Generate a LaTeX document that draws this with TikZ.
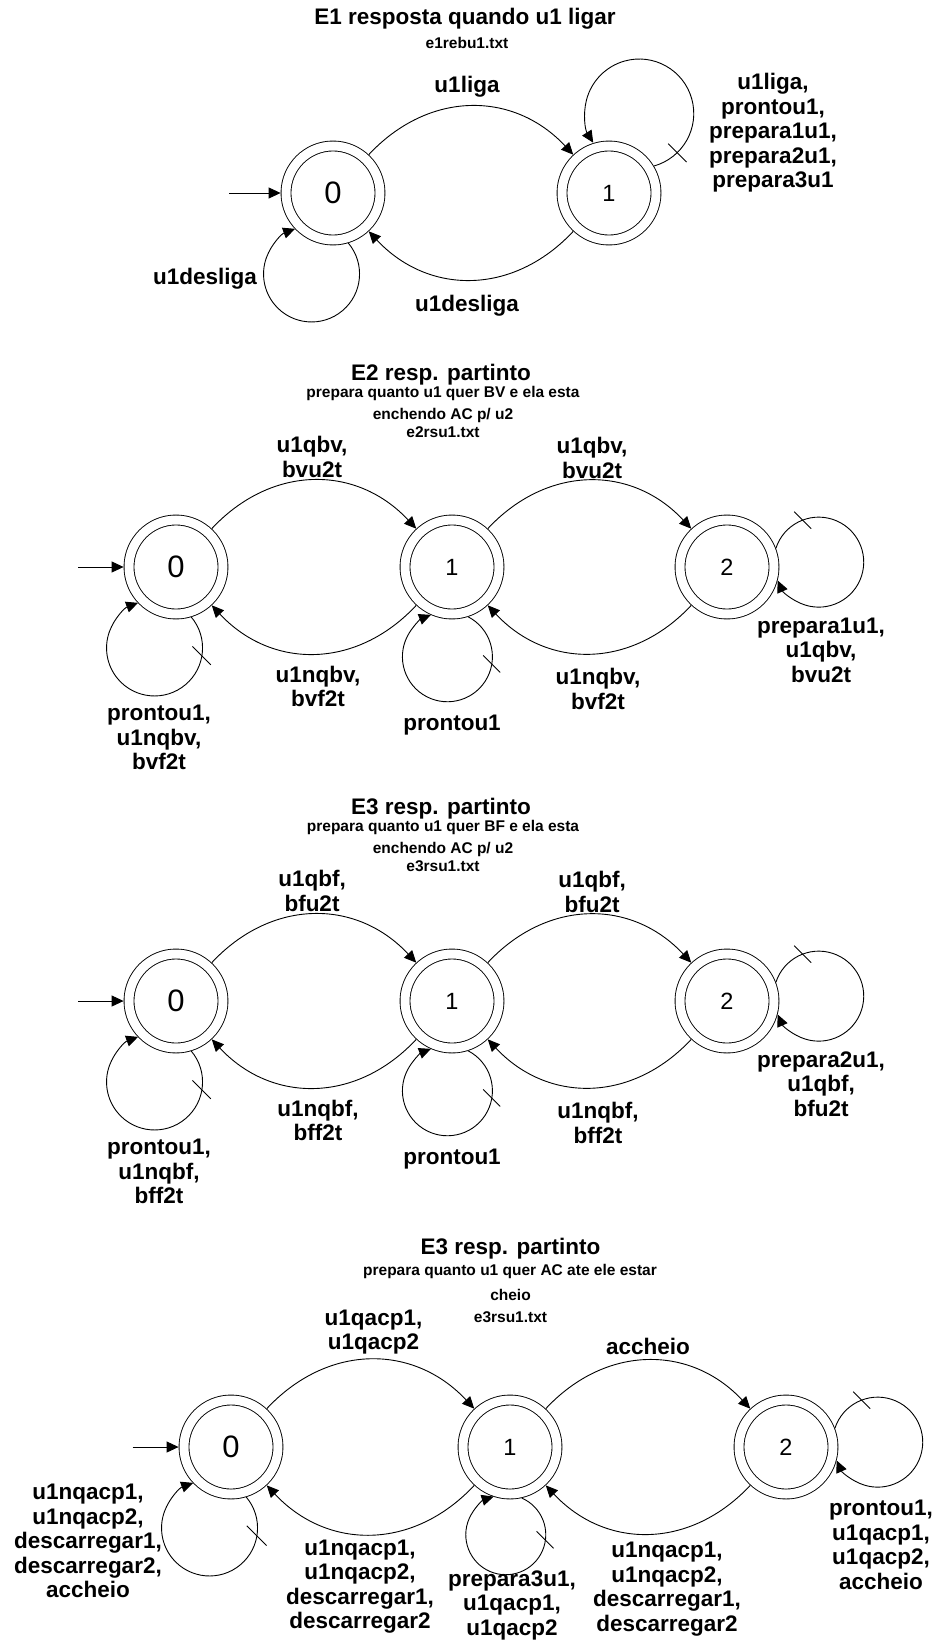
\documentclass[tikz,border=0pt]{standalone}
\usepackage{fontspec}
\setmainfont{Liberation Sans}
\usetikzlibrary{arrows.meta,calc}

\begin{document}
\begin{tikzpicture}[x=1pt,y=1pt,
    state/.style={circle,draw,double,double distance=9pt,line width=0.9pt,
      minimum size=94pt,inner sep=0pt,outer sep=5.4pt,
      font=\fontsize{23.5}{26}\selectfont},
    zero/.style={font=\fontsize{31}{33}\selectfont},
    edge/.style={line width=0.9pt,-{Triangle[length=12pt,width=11pt]}},
    tick/.style={line width=0.9pt},
    lbl/.style={font=\bfseries\fontsize{22.5}{24.5}\selectfont,align=center,inner sep=0pt},
    sub/.style={font=\bfseries\fontsize{15.5}{18}\selectfont,inner sep=0pt}]
  \useasboundingbox (0,0) rectangle (939,-1645);

  % E1: two states
  \node[lbl] (tta) at (465,-18.5) {E1 resposta quando u1 ligar};
  \node[sub] (sba) at (467,-43) {e1rebu1.txt};
  \node[state,zero] (q0a) at (333,-193) {0};
  \node[state] (q1a) at (609,-193) {1};
  \coordinate (ia) at (229,-193);
  \draw[edge] (ia) -- (q0a);
  \draw[edge] (q0a) to[bend left=47,looseness=1.1] (q1a);
  \draw[edge] (q1a) to[bend left=47,looseness=1.1] (q0a);
  \draw[edge] (q0a.287) arc[start angle=40,end angle=-250,radius=48];
  \draw[edge] (q1a.31) arc[start angle=-74.4,end angle=212.4,radius=54.5];
  \coordinate (la) at ($(q1a)+(69:85)$);
  \draw[tick] ($(la)+(-46:54.5)$) +(135:13) -- +(-45:13);
  \node[lbl] (e01a) at (467,-87) {u1liga};
  \node[lbl] (e10a) at (467,-306) {u1desliga};
  \node[lbl,anchor=east] (e00a) at (257,-279) {u1desliga};
  \node[lbl] (e11a) at (773,-133)
    {u1liga,\\prontou1,\\prepara1u1,\\prepara2u1,\\prepara3u1};

  % E2 and E3: three states, same layout
  \foreach \s/\dy/\ei/\lc/\uc/\pn in {b/567/2/v/V/1, c/1001/3/f/F/2}{
    \begin{scope}[yshift=-\dy pt]
      \node[lbl] (tt\s) at (441,192) {E\ei{} resp. partinto};
      \node[sub] (sb1\s) at (443,174) {prepara quanto u1 quer B\uc{} e ela esta};
      \node[sub] (sb2\s) at (443,152) {enchendo AC p/ u2};
      \node[sub] (sb3\s) at (443,135) {e\ei{}rsu1.txt};
      \node[state,zero] (q0\s) at (176,0) {0};
      \node[state] (q1\s) at (452,0) {1};
      \node[state] (q2\s) at (727,0) {2};
      \coordinate (i\s) at (78,0);
      \draw[edge] (i\s) -- (q0\s);
      \draw[edge] (q0\s) to[bend left=47,looseness=1.1] (q1\s);
      \draw[edge] (q1\s) to[bend left=47,looseness=1.1] (q2\s);
      \draw[edge] (q1\s) to[bend left=47,looseness=1.1] (q0\s);
      \draw[edge] (q2\s) to[bend left=47,looseness=1.1] (q1\s);
      % self loops, with their ticks
      \draw[edge] (q0\s.287) arc[start angle=40,end angle=-250,radius=48];
      \draw[edge] (q1\s.288) arc[start angle=62.5,end angle=-248.5,radius=45];
      \draw[edge] (q2\s.21) arc[start angle=162,end angle=-156,radius=45];
      \coordinate (l0\s) at ($(q0\s)+(255:84)$);
      \coordinate (l1\s) at ($(q1\s)+(267:90)$);
      \coordinate (l2\s) at ($(q2\s)+(3:92)$);
      \draw[tick] ($(l0\s)+(-9:48)$) +(135:13) -- +(-45:13);
      \draw[tick] ($(l1\s)+(-9:45)$) +(135:12) -- +(-45:12);
      \draw[tick] ($(l2\s)+(111:45)$) +(135:12) -- +(-45:12);
      \node[lbl] (e01\s) at (312,110) {u1qb\lc,\\b\lc{}u2t};
      \node[lbl] (e12\s) at (592,109) {u1qb\lc,\\b\lc{}u2t};
      \node[lbl] (e10\s) at (318,-119.5) {u1nqb\lc,\\b\lc{}f2t};
      \node[lbl] (e21\s) at (598,-122) {u1nqb\lc,\\b\lc{}f2t};
      \node[lbl] (e00\s) at (159,-170.5) {prontou1,\\u1nqb\lc,\\b\lc{}f2t};
      \node[lbl] (e11\s) at (452,-158) {prontou1};
      \node[lbl] (e22\s) at (821,-83) {prepara\pn{}u1,\\u1qb\lc,\\b\lc{}u2t};
    \end{scope}
  }

  % E3 (AC): three states
  \begin{scope}[yshift=-1447pt]
    \node[lbl] (ttd) at (510.5,198.7) {E3 resp. partinto};
    \node[sub] (sb1d) at (510,175.3) {prepara quanto u1 quer AC ate ele estar};
    \node[sub] (sb2d) at (510.5,152) {cheio};
    \node[sub] (sb3d) at (510.5,129.7) {e3rsu1.txt};
    \node[state,zero] (q0d) at (231,0) {0};
    \node[state] (q1d) at (510,0) {1};
    \node[state] (q2d) at (786,0) {2};
    \coordinate (id) at (132.5,0);
    \draw[edge] (id) -- (q0d);
    \draw[edge] (q0d) to[bend left=47,looseness=1.1] (q1d);
    \draw[edge] (q1d) to[bend left=47,looseness=1.1] (q2d);
    \draw[edge] (q1d) to[bend left=47,looseness=1.1] (q0d);
    \draw[edge] (q2d) to[bend left=47,looseness=1.1] (q1d);
    \draw[edge] (q0d.287) arc[start angle=40,end angle=-250,radius=48];
    \draw[edge] (q1d.283) arc[start angle=66.4,end angle=-252.4,radius=40];
    \draw[edge] (q2d.21) arc[start angle=162,end angle=-156,radius=45];
    \coordinate (l0d) at ($(q0d)+(255:84)$);
    \coordinate (l1d) at ($(q1d)+(267:88)$);
    \coordinate (l2d) at ($(q2d)+(3:92)$);
    \draw[tick] ($(l0d)+(-9:48)$) +(135:14) -- +(-45:14);
    \draw[tick] ($(l1d)+(-7:40)$) +(135:12) -- +(-45:12);
    \draw[tick] ($(l2d)+(111:45)$) +(135:12) -- +(-45:12);
    \node[lbl] (e01d) at (373.5,115) {u1qacp1,\\u1qacp2};
    \node[lbl] (e12d) at (648,100.3) {accheio};
    \node[lbl] (e10d) at (360,-139.7)
      {u1nqacp1,\\u1nqacp2,\\descarregar1,\\descarregar2};
    \node[lbl] (e21d) at (667,-142)
      {u1nqacp1,\\u1nqacp2,\\descarregar1,\\descarregar2};
    \node[lbl] (e11d) at (512,-158) {prepara3u1,\\u1qacp1,\\u1qacp2};
    \node[lbl] (e00d) at (88,-94)
      {u1nqacp1,\\u1nqacp2,\\descarregar1,\\descarregar2,\\accheio};
    \node[lbl] (e22d) at (881,-98) {prontou1,\\u1qacp1,\\u1qacp2,\\accheio};
  \end{scope}
\end{tikzpicture}
\end{document}
